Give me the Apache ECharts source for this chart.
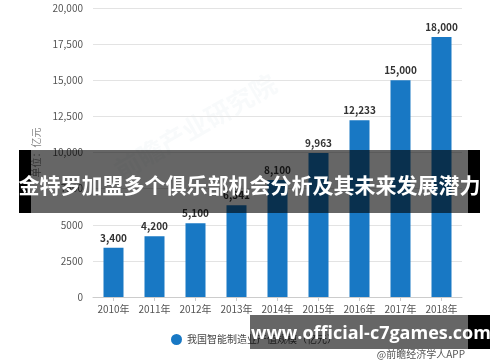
<!DOCTYPE html>
<html>
<head>
<meta charset="utf-8">
<script src="https://cdn.jsdelivr.net/npm/echarts@6/dist/echarts.min.js"></script>
<style>html,body{margin:0;padding:0;background:#fff;}#c{width:500px;height:362px;}</style>
</head>
<body>
<div id="c"></div>
<script>
var categories = ['2010年','2011年','2012年','2013年','2014年','2015年','2016年','2017年','2018年'];
var values = [3400, 4200, 5100, 6341, 8100, 9963, 12233, 15000, 18000];
var yTicks = [0, 2500, 5000, 7500, 10000, 12500, 15000, 17500, 20000];
var seriesName = '我国智能制造业产值规模（亿元）';
var titleText = '金特罗加盟多个俱乐部机会分析及其未来发展潜力';
var siteText = 'www.official-c7games.com';
var sourceText = '@前瞻经济学人APP';

function fmt(v){
  if (v >= 10000) return String(v).replace(/\B(?=(\d{3})+(?!\d))/g, ',');
  return String(v);
}
function fmtLabel(v){
  return String(v).replace(/\B(?=(\d{3})+(?!\d))/g, ',');
}

var chart = echarts.init(document.getElementById('c'));
chart.setOption({
  animation: false,
  backgroundColor: '#fff',
  textStyle: {fontFamily: 'Noto Sans CJK SC, sans-serif'},
  grid: {left: 93, right: 38, top: 8, bottom: 65},
  legend: {
    data: [seriesName],
    left: 166, top: 329,
    icon: 'circle', itemWidth: 11, itemHeight: 11, itemGap: 6,
    textStyle: {fontSize: 10, color: '#444'}
  },
  xAxis: {
    type: 'category', data: categories,
    axisLine: {lineStyle: {color: '#ccc'}},
    axisTick: {show: true, alignWithLabel: true, length: 4, lineStyle: {color: '#ccc'}},
    axisLabel: {color: '#555', fontSize: 10, margin: 7, interval: 0}
  },
  yAxis: {
    type: 'value', min: yTicks[0], max: yTicks[yTicks.length-1], interval: yTicks[1]-yTicks[0],
    name: '单位：亿元', nameLocation: 'middle', nameGap: 48, nameRotate: 90,
    nameTextStyle: {color: '#888', fontSize: 10},
    axisLine: {show: false}, axisTick: {show: false},
    axisLabel: {color: '#555', fontSize: 10, margin: 10, formatter: fmt},
    splitLine: {lineStyle: {color: '#e3e3e3'}}
  },
  series: [{
    name: seriesName, type: 'bar', data: values, barWidth: 20,
    itemStyle: {color: '#1878c4'},
    label: {show: true, position: 'top', distance: 5, color: '#333', fontSize: 10, fontWeight: 'bold', formatter: function(p){return fmtLabel(p.value);}}
  }],
  graphic: [
    {type: 'text', left: 110, top: 70, rotation: Math.PI/6, silent: true, z: 0,
     style: {text: '前瞻产业研究院', fill: 'rgba(200,212,225,0.12)', font: 'bold 26px "Noto Sans CJK SC"'}},
    {type: 'rect', z: 100, shape: {x: 19, y: 150, width: 461, height: 63}, style: {fill: 'rgba(0,0,0,0.6)'}},
    {type: 'rect', z: 101, shape: {x: 19, y: 150, width: 12, height: 63}, style: {fill: '#000'}},
    {type: 'rect', z: 101, shape: {x: 468, y: 150, width: 12, height: 63}, style: {fill: '#000'}},
    {type: 'text', z: 102, x: 249.5, y: 185, style: {text: titleText, fill: '#fff', font: 'bold 21px "Noto Sans CJK SC"', align: 'center', verticalAlign: 'middle'}},
    {type: 'text', z: 50, x: 465, y: 354, style: {text: sourceText, fill: '#555', font: '10px "Noto Sans CJK SC"', align: 'right', verticalAlign: 'middle'}},
    {type: 'rect', z: 100, shape: {x: 250, y: 315, width: 240, height: 34}, style: {fill: 'rgba(0,0,0,0.6)'}},
    {type: 'rect', z: 101, shape: {x: 468, y: 315, width: 22, height: 34}, style: {fill: '#000'}},
    {type: 'text', z: 102, x: 371, y: 334, style: {text: siteText, fill: '#fff', font: 'bold 18px "Open Sans", "DejaVu Sans"', align: 'center', verticalAlign: 'middle'}}
  ]
});
</script>
</body>
</html>
